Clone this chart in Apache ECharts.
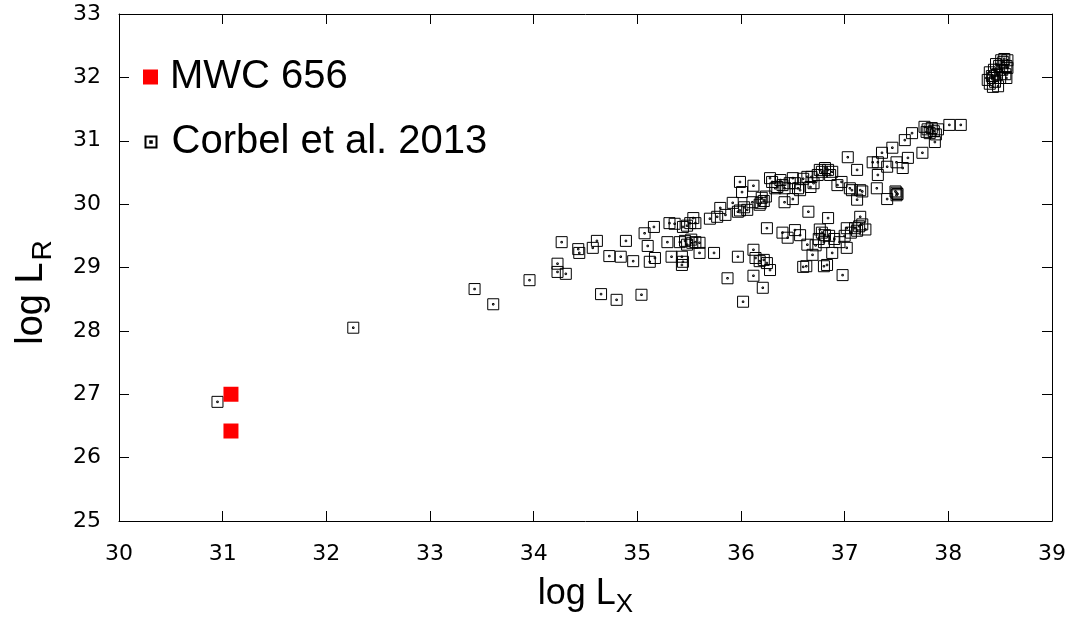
<!DOCTYPE html>
<html>
<head>
<meta charset="utf-8">
<script src="https://cdn.jsdelivr.net/npm/echarts@6/dist/echarts.min.js"></script>
<style>
  html, body { margin: 0; padding: 0; background: #fff; }
  #chart { width: 1074px; height: 617px; }
</style>
</head>
<body>
<div id="chart"></div>
<script>
// MWC 656 (log L_X, log L_R)
const mwcLogLX = [31.08, 31.08];
const mwcLogLR = [27.00, 26.42];

// Corbel et al. 2013 black-hole sample: [log L_X, log L_R]
const corbel2013 = [
  [30.95,26.88],[32.26,28.05],[33.43,28.66],[33.61,28.42],[33.96,28.80],
  [34.23,29.06],[34.23,28.93],[34.31,28.90],[34.27,29.40],[34.43,29.29],
  [34.44,29.23],[34.57,29.31],[34.61,29.42],[34.65,28.58],[34.73,29.18],
  [34.80,28.49],[34.84,29.17],[34.89,29.42],[34.96,29.10],[35.04,28.57],
  [35.07,29.54],[35.10,29.34],[35.12,29.09],[35.17,29.15],[35.16,29.64],
  [35.29,29.40],[35.31,29.70],[35.36,29.69],[35.33,29.17],[35.44,29.64],
  [35.51,29.70],[35.54,29.78],[35.41,29.40],[35.48,29.36],[35.53,29.39],
  [35.60,29.39],[35.43,29.17],[35.44,29.09],[35.43,29.04],[35.60,29.23],
  [35.74,29.23],[35.70,29.77],[35.77,29.80],[35.80,29.94],[35.85,29.83],
  [35.92,30.02],[35.99,30.35],[36.12,30.29],[36.01,30.19],[36.11,30.03],
  [35.97,29.88],[36.06,29.91],[36.20,30.10],[36.25,29.62],[36.28,30.41],
  [36.35,30.27],[35.97,29.17],[36.12,29.28],[36.14,29.15],[36.25,29.07],
  [35.87,28.83],[36.12,28.87],[36.28,28.96],[36.02,28.46],[36.21,28.68],
  [36.18,29.99],[36.42,30.25],[36.42,30.03],[36.50,30.08],[36.50,30.41],
  [36.55,30.25],[36.57,30.22],[36.64,30.43],[36.67,30.27],[36.76,30.54],
  [36.86,30.46],[36.88,30.51],[36.97,30.35],[37.03,30.74],[37.12,30.54],
  [37.05,30.25],[37.07,30.22],[37.15,30.22],[37.17,30.20],[37.12,30.07],
  [36.65,29.88],[36.84,29.78],[37.15,29.80],[37.27,30.66],[37.32,30.46],
  [37.31,30.25],[37.36,30.81],[37.41,30.59],[37.32,30.66],[37.46,30.89],
  [37.50,30.66],[37.56,30.57],[37.61,30.73],[37.41,30.08],[37.50,30.18],
  [37.50,30.14],[37.49,30.20],[37.51,30.16],[37.58,31.01],[37.65,31.12],
  [37.75,30.81],[37.77,31.22],[37.82,31.12],[37.87,30.98],[38.01,31.25],
  [38.12,31.25],[37.80,31.18],[37.84,31.20],[37.86,31.15],[37.88,31.10],
  [37.79,31.14],[37.90,31.18],
  [36.52,29.59],[36.57,29.51],[36.64,29.36],[36.69,29.20],[36.81,29.51],
  [36.88,29.23],[37.02,29.31],[36.98,28.88],[37.02,29.62],[37.10,29.62],
  [36.60,29.01],[36.63,29.02],[36.83,29.04],[36.80,29.02],[36.40,29.55],
  [36.45,29.47],[36.75,29.45],[36.78,29.55],[36.80,29.40],[36.85,29.50],
  [36.90,29.45],[36.72,29.35],[36.76,29.60],[36.95,29.40],[37.00,29.50],
  [37.06,29.55],[37.12,29.58],[37.14,29.65],[37.17,29.68],[37.20,29.60],
  [36.30,30.35],[36.33,30.25],[36.38,30.38],[36.40,30.30],[36.47,30.33],
  [36.52,30.33],[36.60,30.40],[36.68,30.43],[36.70,30.33],[36.74,30.46],
  [36.78,30.51],[36.81,30.57],[36.84,30.54],[36.93,30.30],[36.03,29.95],
  [35.99,29.90],[36.22,30.05],[36.24,30.12],[36.19,30.02],[36.18,29.10],
  [36.22,29.12],[35.46,29.42],[35.52,29.44],[35.56,29.40],[35.48,29.66],
  [35.56,29.70],
  [38.38,31.96],[38.40,31.90],[38.43,31.85],[38.42,32.02],[38.45,31.93],
  [38.48,31.86],[38.40,32.08],[38.44,32.12],[38.47,32.05],[38.50,31.99],
  [38.49,32.18],[38.52,32.12],[38.53,32.24],[38.56,32.18],[38.54,32.29],
  [38.57,32.27],[38.46,32.21],[38.51,32.27],[38.43,31.99],[38.55,32.05],
  [38.57,32.15],[38.56,31.99]
];

const xRange = { min: 30, max: 39, interval: 1 };
const yRange = { min: 25, max: 33, interval: 1 };

// open square with a dot in the middle
const dotSquare = 'path://M0,0H10V10H0Z M4.3,4.3H5.7V5.7H4.3Z';

const labelFont = 'DejaVu Sans';
const textFont = 'Liberation Sans';

const xNameRich = {
  a: { fontSize: 36, fontFamily: textFont, color: '#000' },
  s: { fontSize: 26, fontFamily: textFont, color: '#000', padding: [22, 0, 0, 0] }
};
const yNameRich = {
  a: { fontSize: 38, fontFamily: textFont, color: '#000' },
  s: { fontSize: 28, fontFamily: textFont, color: '#000', padding: [22, 0, 0, 2] }
};

const frameAxis = (pos, range) => ({
  type: 'value', position: pos, min: range.min, max: range.max, interval: range.interval,
  axisLine: { show: true, onZero: false, lineStyle: { color: '#000', width: 1 } },
  axisTick: { show: true, inside: true, length: 10, lineStyle: { color: '#000', width: 1 } },
  axisLabel: { show: false },
  splitLine: { show: false }
});

const chart = echarts.init(document.getElementById('chart'), null, { renderer: 'canvas' });
chart.setOption({
  animation: false,
  backgroundColor: '#fff',
  grid: { left: 119, right: 22, top: 14, bottom: 96, containLabel: false, outerBoundsMode: 'none' },
  legend: [
    {
      data: [{ name: 'MWC 656', icon: 'rect' }],
      left: 143, top: 57, padding: 0, itemWidth: 15, itemHeight: 15,
      textStyle: { fontSize: 40, fontFamily: textFont, color: '#000', padding: [0, 0, 0, 7] },
      selectedMode: false
    },
    {
      data: [{ name: 'Corbel et al. 2013', icon: dotSquare }],
      left: 144.5, top: 122, padding: 0, itemWidth: 11, itemHeight: 11,
      textStyle: { fontSize: 40, fontFamily: textFont, color: '#000', padding: [0, 0, 0, 10] },
      selectedMode: false
    }
  ],
  xAxis: [
    Object.assign(frameAxis('bottom', xRange), {
      name: '{a|log L}{s|X}', nameLocation: 'middle', nameGap: 49,
      nameTextStyle: { rich: xNameRich },
      axisLabel: { show: true, margin: 22, fontSize: 22, fontFamily: labelFont, color: '#000' }
    }),
    frameAxis('top', xRange)
  ],
  yAxis: [
    Object.assign(frameAxis('left', yRange), {
      name: '{a|log L}{s|R}', nameLocation: 'middle', nameGap: 62,
      nameTextStyle: { rich: yNameRich, padding: [0, 50, 0, 0] },
      axisLabel: { show: true, margin: 18, fontSize: 22, fontFamily: labelFont, color: '#000' }
    }),
    frameAxis('right', yRange)
  ],
  series: [
    {
      name: 'Corbel et al. 2013', type: 'scatter', silent: true,
      xAxisIndex: 0, yAxisIndex: 0,
      symbol: dotSquare, symbolSize: 11,
      itemStyle: { color: 'rgba(0,0,0,0)', borderColor: '#000', borderWidth: 1, opacity: 1 },
      data: corbel2013
    },
    {
      name: 'MWC 656', type: 'scatter', silent: true,
      xAxisIndex: 0, yAxisIndex: 0,
      symbol: 'rect', symbolSize: 15,
      itemStyle: { color: '#ff0000', opacity: 1 },
      data: mwcLogLX.map((x, i) => [x, mwcLogLR[i]])
    }
  ]
});
</script>
</body>
</html>
